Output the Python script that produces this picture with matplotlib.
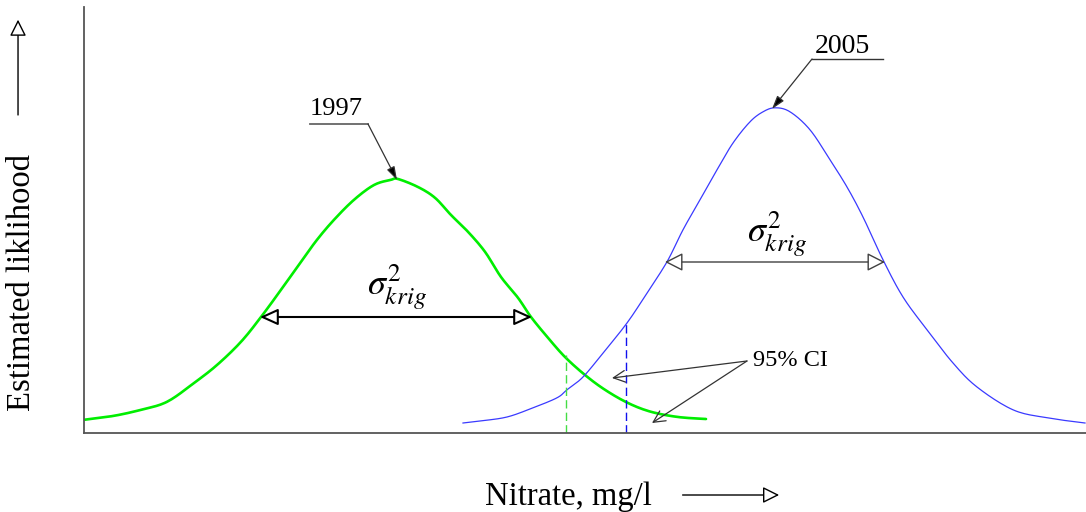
import numpy as np
import matplotlib

matplotlib.use('Agg')
import matplotlib.pyplot as plt
from matplotlib.patches import FancyArrowPatch

plt.rcParams['font.family'] = ['Liberation Serif', 'DejaVu Serif']
plt.rcParams['mathtext.fontset'] = 'stix'

# likelihood curves (nitrate in arbitrary units, likelihood unscaled)
x_1997 = [0.0, 3.0, 5.7, 8.3, 11.0, 13.3, 15.7, 17.7, 19.7, 21.7, 23.3, 25.0, 27.0, 29.0,
          30.7, 31.4, 33.4, 35.1, 36.7, 38.4, 40.1, 41.7, 43.4, 44.7, 46.4, 48.1, 50.1,
          52.1, 54.4, 56.7, 59.4, 62.2]
y_1997 = [0.033, 0.043, 0.058, 0.078, 0.125, 0.170, 0.228, 0.290, 0.358, 0.428, 0.483,
          0.533, 0.583, 0.620, 0.633, 0.635, 0.615, 0.588, 0.545, 0.503, 0.453, 0.390,
          0.338, 0.290, 0.238, 0.190, 0.145, 0.108, 0.075, 0.053, 0.040, 0.035]

x_2005 = [37.9, 39.6, 42.3, 44.9, 47.3, 48.3, 49.9, 51.9, 54.3, 56.3, 58.3, 59.9, 61.6,
          63.3, 64.9, 66.6, 67.9, 69.1, 70.6, 72.6, 74.6, 76.3, 77.9, 79.9, 81.9, 84.3,
          86.9, 89.3, 92.9, 96.3, 100.1]
y_2005 = [0.025, 0.030, 0.040, 0.063, 0.088, 0.108, 0.140, 0.200, 0.275, 0.350, 0.428,
          0.508, 0.583, 0.658, 0.725, 0.778, 0.803, 0.813, 0.803, 0.758, 0.683, 0.615,
          0.540, 0.433, 0.340, 0.258, 0.175, 0.115, 0.058, 0.038, 0.025]

# kriging variance spans (left, right, height)
sig_1997 = (17.6, 44.8, 0.290)
sig_2005 = (58.1, 80.1, 0.4275)

# 95% CI limits (x, curve height)
ci_1997 = (48.2, 0.195)
ci_2005 = (54.2, 0.2725)

peak_1997 = (31.3, 0.6325)
peak_2005 = (68.8, 0.81)


def smooth(xs, ys, n=12):
    # catmull-rom through the read points so the curve isn't jagged
    p = np.column_stack([xs, ys])
    p = np.vstack([p[0], p, p[-1]])
    out = []
    t = np.linspace(0, 1, n, endpoint=False)[:, None]
    for i in range(1, len(p) - 2):
        p0, p1, p2, p3 = p[i - 1], p[i], p[i + 1], p[i + 2]
        seg = 0.5 * (2 * p1 + (-p0 + p2) * t + (2 * p0 - 5 * p1 + 4 * p2 - p3) * t ** 2
                     + (-p0 + 3 * p1 - 3 * p2 + p3) * t ** 3)
        out.append(seg)
    out.append(p[-2][None, :])
    out = np.vstack(out)
    return out[:, 0], out[:, 1]


fig = plt.figure(figsize=(10.86, 5.12), dpi=100)
ax = fig.add_axes([84 / 1086, 79 / 512, 1002 / 1086, 426 / 512])
ax.set_xlim(0, 100.2)
ax.set_ylim(0, 1.065)
for s in ['top', 'right']:
    ax.spines[s].set_visible(False)
for s in ['left', 'bottom']:
    ax.spines[s].set_color('#555555')
    ax.spines[s].set_linewidth(1.3)
ax.set_xticks([])
ax.set_yticks([])

gx, gy = smooth(x_1997, y_1997)
bx, by = smooth(x_2005, y_2005)
ax.plot(gx, gy, color='#00ee00', lw=1.9, solid_capstyle='round')
ax.plot(bx, by, color='#3a3aff', lw=0.9)

# CI limits
ax.plot([ci_1997[0], ci_1997[0]], [0, ci_1997[1]], color='#44dd44', lw=1.0,
        dashes=(6, 3))
ax.plot([ci_2005[0], ci_2005[0]], [0, ci_2005[1]], color='#1010ee', lw=1.0,
        dashes=(6, 3))

# variance arrows
ax.annotate('', xy=(sig_1997[1], sig_1997[2]), xytext=(sig_1997[0], sig_1997[2]),
            arrowprops=dict(arrowstyle='<|-|>,head_length=0.55,head_width=0.25',
                            mutation_scale=20, fc='white', ec='black', lw=1.5,
                            shrinkA=0, shrinkB=0))
ax.annotate('', xy=(sig_2005[1], sig_2005[2]), xytext=(sig_2005[0], sig_2005[2]),
            arrowprops=dict(arrowstyle='<|-|>,head_length=0.55,head_width=0.28',
                            mutation_scale=20, fc='white', ec='#404040', lw=1.0,
                            shrinkA=0, shrinkB=0))
ax.text(28.3, 0.345, r'$\sigma^{2}_{krig}$', fontsize=26, ha='left', va='baseline')
ax.text(66.3, 0.4775, r'$\sigma^{2}_{krig}$', fontsize=26, ha='left', va='baseline')

# year labels with leaders
ax.text(22.6, 0.795, '1997', fontsize=19, ha='left', va='baseline')
ax.plot([22.6, 28.4], [0.7725, 0.7725], color='#666666', lw=1.3)
ax.annotate('', xy=peak_1997, xytext=(28.4, 0.7725),
            arrowprops=dict(arrowstyle='-|>,head_length=0.8,head_width=0.25',
                            mutation_scale=10, fc='black', ec='#333333', lw=0.9,
                            shrinkA=0, shrinkB=0))
ax.text(73.1, 0.95, '2005', fontsize=20, ha='left', va='baseline')
ax.plot([72.8, 79.9], [0.935, 0.935], color='#333333', lw=1.0)
ax.annotate('', xy=peak_2005, xytext=(72.8, 0.935),
            arrowprops=dict(arrowstyle='-|>,head_length=0.8,head_width=0.25',
                            mutation_scale=10, fc='black', ec='#333333', lw=0.9,
                            shrinkA=0, shrinkB=0))

# confidence interval callout
ax.text(66.9, 0.18, '95% CI', fontsize=17.5, ha='left', va='center')
for tip in [(52.8, 0.1375), (56.8, 0.025)]:
    ax.annotate('', xy=tip, xytext=(66.3, 0.18),
                arrowprops=dict(arrowstyle='->,head_length=0.7,head_width=0.35',
                                mutation_scale=12, color='#333333', lw=0.9,
                                shrinkA=0, shrinkB=0))

# axis titles with direction arrows
fig.text(0.020, 0.449, 'Estimated liklihood', rotation=90, fontsize=23.5,
         ha='center', va='center')
fig.patches.append(FancyArrowPatch(
    (0.0166, 0.770), (0.0166, 0.967), transform=fig.transFigure,
    arrowstyle='-|>,head_length=0.5,head_width=0.25', mutation_scale=20,
    fc='white', ec='black', lw=1.0))
fig.text(0.4466, 0.0137, 'Nitrate, mg/l', fontsize=23.5, ha='left', va='baseline')
fig.patches.append(FancyArrowPatch(
    (0.626, 0.0332), (0.720, 0.0332), transform=fig.transFigure,
    arrowstyle='-|>,head_length=0.5,head_width=0.25', mutation_scale=20,
    fc='white', ec='black', lw=1.0))

fig.savefig('out.png', dpi=100)
